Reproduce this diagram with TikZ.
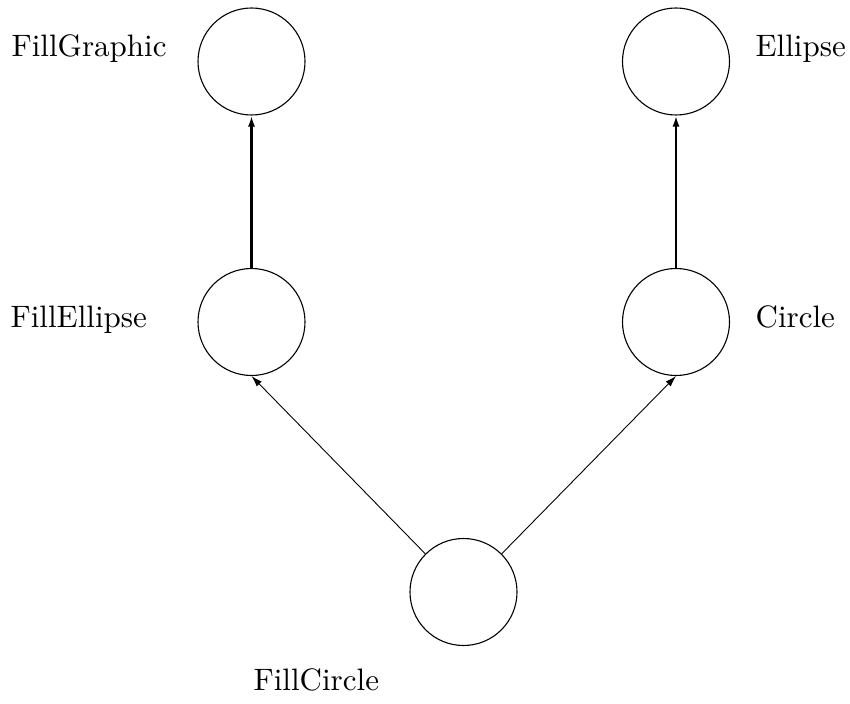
\documentclass[tikz,border=0pt]{standalone}
\usetikzlibrary{arrows.meta}
\begin{document}
\begin{tikzpicture}[x=1pt,y=-1pt,
  cls/.style={circle,draw,line width=1.1pt,minimum size=107pt,inner sep=0pt},
  lbl/.style={anchor=base west,inner sep=0pt,scale=3.1},
  inh/.style={line width=2.4pt,-{Latex[length=11pt,width=7pt]}},
  use/.style={line width=0.9pt,-{Latex[length=11pt,width=7pt]}}]
\useasboundingbox (0,0) rectangle (850,703);
\node[cls] (fg) at (251.5,61.5) {};
\node[cls] (el) at (676,61.5) {};
\node[cls] (fe) at (251.5,322) {};
\node[cls] (ci) at (676,322) {};
\node[cls] (fc) at (463.5,592) {};
\node[lbl] (tfg) at (11,57) {FillGraphic};
\node[lbl] (tel) at (755,57) {Ellipse};
\node[lbl] (tfe) at (10,327) {FillEllipse};
\node[lbl] (tci) at (755,327) {Circle};
\node[lbl] (tfc) at (253,690) {FillCircle};
\draw[inh] (fe.north) -- (fg.south);
\draw[inh] (ci.north) -- (el.south);
\draw[use] (fc.135) -- (fe.south);
\draw[use] (fc.45) -- (ci.south);
\end{tikzpicture}
\end{document}
